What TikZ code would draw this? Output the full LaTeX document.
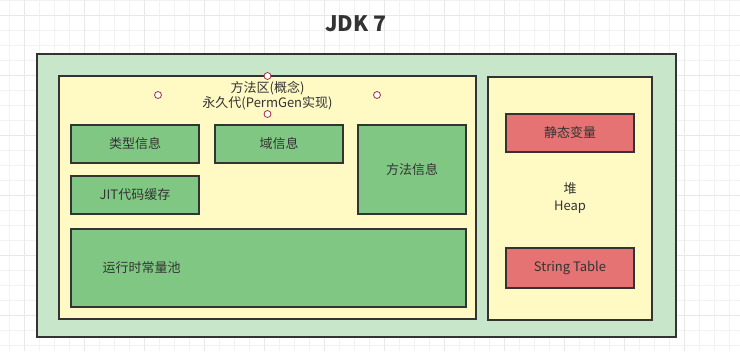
\documentclass[tikz,border=0pt]{standalone}
\usepackage{fontspec}
\setmainfont{Noto Sans CJK SC}
\usepackage{tikz}
\usepackage{xcolor}
\definecolor{jvmgreen}{HTML}{C8E6C9}
\definecolor{areayellow}{HTML}{FFF9C4}
\definecolor{infogreen}{HTML}{81C784}
\definecolor{heapred}{HTML}{E57373}
\definecolor{edge}{HTML}{333333}
\definecolor{handle}{HTML}{A3303E}

\begin{document}
\begin{tikzpicture}[x=0.75pt,y=-0.75pt,font=\fontsize{9.75}{15.5}\selectfont,text=edge,
  region/.style={draw=edge,line width=1.5pt,inner sep=0pt},
  jvm/.style={region,fill=jvmgreen},
  area/.style={region,fill=areayellow},
  info/.style={region,fill=infogreen},
  heapbox/.style={region,fill=heapred},
  dot/.style={circle,draw=handle,fill=white,line width=0.6pt,inner sep=0pt,minimum size=5.2pt}]
\useasboundingbox (0,0) rectangle (740,351);
\fill[white] (0,0) rectangle (740,351);
\foreach \gx in {0,...,48} \draw[gray!10,line width=0.75pt] (9.3+15*\gx,0) -- (9.3+15*\gx,351);
\foreach \gy in {0,...,23} \draw[gray!10,line width=0.75pt] (0,0.7+15*\gy) -- (740,0.7+15*\gy);
\foreach \gx in {0,...,11} \draw[gray!18,line width=0.75pt] (24.3+60*\gx,0) -- (24.3+60*\gx,351);
\foreach \gy in {0,...,5} \draw[gray!18,line width=0.75pt] (0,15.7+60*\gy) -- (740,15.7+60*\gy);
\node[font=\fontsize{16}{18}\selectfont\bfseries] (title) at (356,24) {JDK 7};
\node[jvm,minimum width=479.25pt,minimum height=212.25pt] (jvm) at (356.5,195.5) {};
\node[area,minimum width=312.75pt,minimum height=182.25pt] (method) at (267.5,197.5) {};
\node[area,minimum width=123pt,minimum height=182.25pt,align=center,
  font=\fontsize{9.75}{12.5}\selectfont] (heap) at (570,198) {堆\\Heap};
\node[align=center,font=\fontsize{9.75}{11.7}\selectfont] (methodlabel) at (267.5,95.5) {方法区(概念)\\永久代(PermGen实现)};
\node[dot] (h1) at (267.5,76) {};
\node[dot] (h2) at (158,95) {};
\node[dot] (h3) at (377,95) {};
\node[dot] (h4) at (267.5,114) {};
\node[info,minimum width=96pt,minimum height=28.5pt] (typeinfo) at (135,144) {类型信息};
\node[info,minimum width=96pt,minimum height=28.5pt] (fieldinfo) at (279,144) {域信息};
\node[info,minimum width=81pt,minimum height=66.75pt] (methodinfo) at (412,169.5) {方法信息};
\node[info,minimum width=96pt,minimum height=28.5pt] (jitcache) at (135,195) {JIT代码缓存};
\node[info,minimum width=296.25pt,minimum height=58.5pt] (constpool) at (268.5,268) {};
\node[anchor=west] (poollabel) at (98,268) {运行时常量池};
\node[heapbox,minimum width=96pt,minimum height=28.5pt] (staticvar) at (570,133) {静态变量};
\node[heapbox,minimum width=96pt,minimum height=30pt] (stringtable) at (570,268) {String Table};
\end{tikzpicture}
\end{document}
